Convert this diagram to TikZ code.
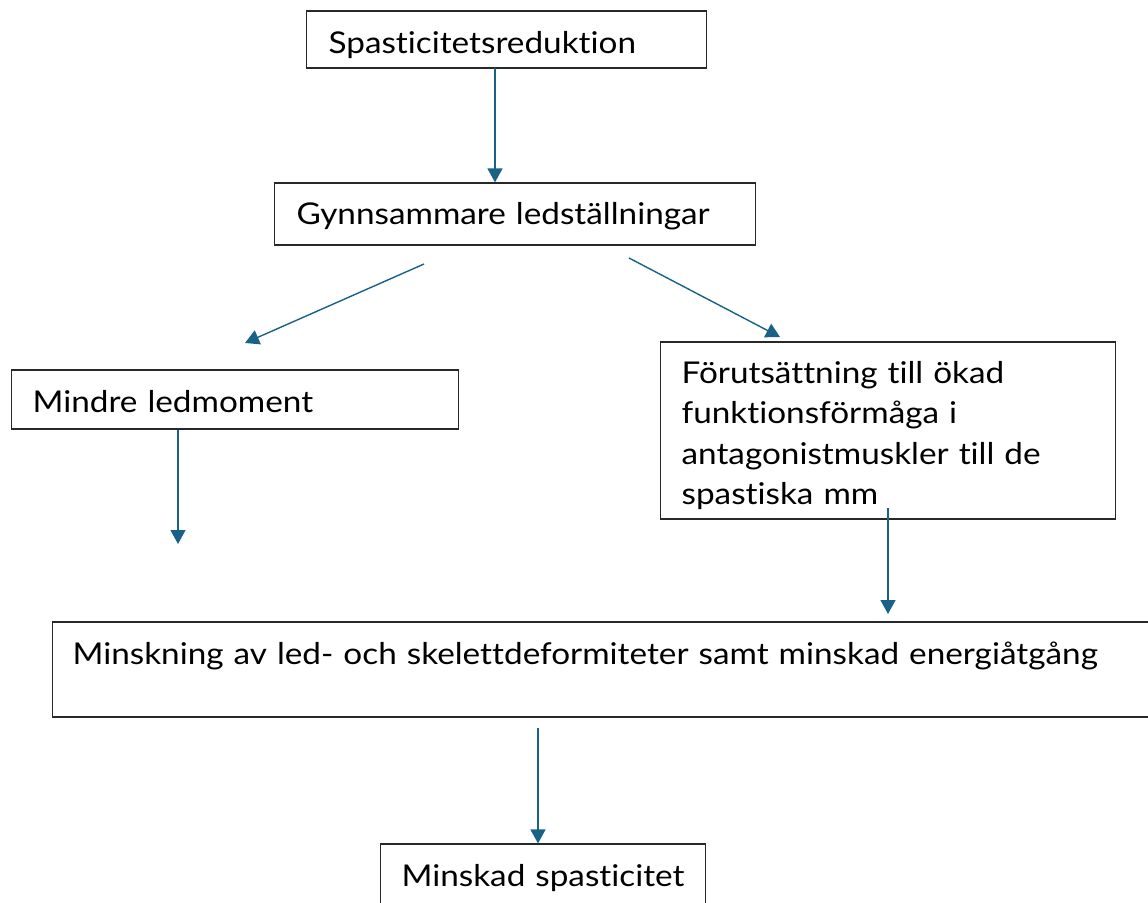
\documentclass[tikz,border=0pt]{standalone}
\usepackage{fontspec}
\setmainfont{Lato}[FakeStretch=1.11, Ligatures=NoCommon]
\usetikzlibrary{arrows.meta}
\definecolor{arrowblue}{RGB}{26,97,136}
\definecolor{boxline}{RGB}{40,40,40}
\tikzset{
  bx/.style={draw=boxline, line width=1.2pt, anchor=base west, align=left,
    inner ysep=0pt, font=\fontsize{30}{40.5}\selectfont, text=black},
  arr/.style={draw=arrowblue, line width=1.4pt,
    -{Triangle[width=15pt,length=14pt]}, fill=arrowblue}
}
\begin{document}
\begin{tikzpicture}[x=1pt,y=-1pt]
\useasboundingbox (0,0) rectangle (1148,902);
% boxes: placed at (left, first baseline)
\node[bx, inner xsep=22pt, text width=356pt, text height=42pt, text depth=15pt]
  (b1) at (306,53) {Spasticitetsreduktion};
\node[bx, inner xsep=22pt, text width=437pt, text height=41pt, text depth=21pt]
  (b2) at (274,224) {Gynnsammare ledställningar};
\node[bx, inner xsep=21pt, text width=405pt, text height=42pt, text depth=17pt]
  (b3) at (11,412) {Mindre ledmoment};
\node[bx, inner xsep=21pt, text width=413pt, text height=41pt, text depth=136pt]
  (b4) at (660,383) {Förutsättning till ökad\\funktionsförmåga i\\antagonistmuskler till de\\spastiska mm};
\node[bx, inner xsep=20pt, text width=1100pt, text height=42pt, text depth=53pt]
  (b5) at (52,664) {Minskning av led- och skelettdeformiteter samt minskad energiåtgång};
\node[bx, inner xsep=21pt, text width=283pt, text height=42pt, text depth=40pt]
  (b6) at (380,886) {Minskad spasticitet};
% arrow end points
\coordinate (a1s) at (495,68);
\coordinate (a2s) at (424,264);
\coordinate (a2e) at (245,343);
\coordinate (a3s) at (629,258);
\coordinate (a3e) at (780,337);
\coordinate (a4s) at (178,430);
\coordinate (a4e) at (178,544);
\coordinate (a5s) at (888,508);
\coordinate (a5e) at (888,614);
\coordinate (a6s) at (538,728);
% connectors
\draw[arr] (a1s) -- (a1s |- b2.north);
\draw[arr] (a2s) -- (a2e);
\draw[arr] (a3s) -- (a3e);
\draw[arr] (a4s) -- (a4e);
\draw[arr] (a5s) -- (a5e);
\draw[arr] (a6s) -- (a6s |- b6.north);
\end{tikzpicture}
\end{document}
